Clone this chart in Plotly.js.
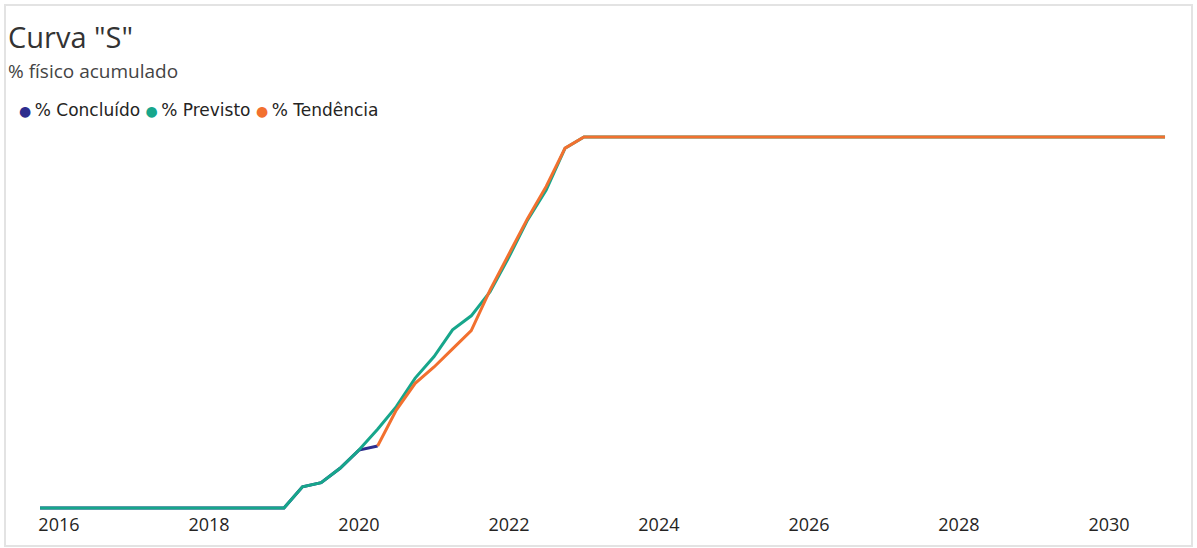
<!DOCTYPE html>
<html>
<head>
<meta charset="utf-8">
<script src="https://cdn.plot.ly/plotly-3.0.1.min.js"></script>
<style>
  html, body { margin: 0; padding: 0; background: #fff; }
  #wrap { position: relative; width: 1197px; height: 548px; }
  #chart { width: 1197px; height: 548px; }
  #frame { position: absolute; left: 4px; top: 4px; width: 1185px; height: 539px;
           border: 2px solid #e3e3e3; pointer-events: none; }
</style>
</head>
<body>
<div id="wrap">
  <div id="chart"></div>
  <div id="frame"></div>
</div>
<script>
// ---- data ----
const seriesNames = ["% Concluído", "% Previsto", "% Tendência"];
const seriesColors = ["#2E2D8E", "#17A68B", "#F2702F"];

const concluidoDates = ["2015-10-01", "2019-01-01", "2019-04-01", "2019-07-01", "2019-10-01", "2020-01-01", "2020-04-01"];
const concluidoValues = [0, 0, 5.7, 6.8, 10.7, 15.6, 16.7];

const previstoDates = ["2015-10-01", "2019-01-01", "2019-04-01", "2019-07-01", "2019-10-01", "2020-01-01",
  "2020-04-01", "2020-07-01", "2020-10-01", "2021-01-01", "2021-04-01", "2021-07-01", "2021-10-01",
  "2022-01-01", "2022-04-01", "2022-07-01", "2022-10-01", "2023-01-01", "2030-10-01"];
const previstoValues = [0, 0, 5.7, 6.8, 10.7, 15.6,
  21.2, 27.3, 35.0, 40.8, 48.0, 51.8, 58.3,
  67.7, 77.6, 85.7, 97.0, 100, 100];

const tendenciaDates = ["2020-04-01", "2020-07-01", "2020-10-01", "2021-01-01", "2021-04-01", "2021-07-01",
  "2021-10-01", "2022-01-01", "2022-04-01", "2022-07-01", "2022-10-01", "2023-01-01", "2030-10-01"];
const tendenciaValues = [16.7, 26.4, 33.6, 38.0, 42.9, 47.8,
  58.8, 68.7, 78.0, 86.7, 97.0, 100, 100];

const tickYears = ["2016", "2018", "2020", "2022", "2024", "2026", "2028", "2030"];

const chartTitle = 'Curva "S"';
const chartSubtitle = "% físico acumulado";

// ---- traces ----
const allX = [concluidoDates, previstoDates, tendenciaDates];
const allY = [concluidoValues, previstoValues, tendenciaValues];
const traces = allX.map((xs, i) => ({
  type: "scatter",
  mode: "lines",
  name: seriesNames[i],
  x: xs,
  y: allY[i],
  line: { color: seriesColors[i], width: 3 },
  showlegend: false,
  hoverinfo: "x+y+name"
}));

// legend drawn as text, built from names & colors
const legendText = seriesNames.map((n, i) =>
  '<span style="color:' + seriesColors[i] + ';font-size:14px">●</span>' +
  '<span style="font-size:11px">&nbsp;</span>' + n
).join(' ');

const font = "'Open Sans', 'Noto Sans', sans-serif";
const legendFont = "'DejaVu Sans', sans-serif";

const layout = {
  width: 1197,
  height: 548,
  margin: { l: 30, r: 25, t: 120, b: 36 },
  paper_bgcolor: "#ffffff",
  plot_bgcolor: "#ffffff",
  font: { family: font, color: "#333333" },
  showlegend: false,
  xaxis: {
    type: "date",
    range: ["2015-08-13", "2030-11-04"],
    tickvals: tickYears.map(y => y + "-01-01"),
    ticktext: tickYears,
    showgrid: false,
    zeroline: false,
    showline: false,
    ticks: "",
    tickfont: { size: 18, color: "#252423", family: font },
    fixedrange: true
  },
  yaxis: {
    range: [-1.1, 104.6],
    showgrid: false,
    zeroline: false,
    showline: false,
    showticklabels: false,
    ticks: "",
    fixedrange: true
  },
  annotations: [
    {
      xref: "paper", yref: "paper",
      x: (6 - 30) / 1142, y: 1 + (120 - 36) / 392,
      xanchor: "left", yanchor: "middle",
      text: chartTitle,
      showarrow: false,
      font: { size: 29, color: "#333333", family: font }
    },
    {
      xref: "paper", yref: "paper",
      x: (6 - 30) / 1142, y: 1 + (120 - 71) / 392,
      xanchor: "left", yanchor: "middle",
      text: chartSubtitle,
      showarrow: false,
      font: { size: 19, color: "#444444", family: font }
    },
    {
      xref: "paper", yref: "paper",
      x: (17 - 30) / 1142, y: 1 + (120 - 110) / 392,
      xanchor: "left", yanchor: "middle",
      text: legendText,
      showarrow: false,
      font: { size: 17, color: "#252423", family: legendFont }
    }
  ]
};

Plotly.newPlot("chart", traces, layout, { displayModeBar: false });
</script>
</body>
</html>
